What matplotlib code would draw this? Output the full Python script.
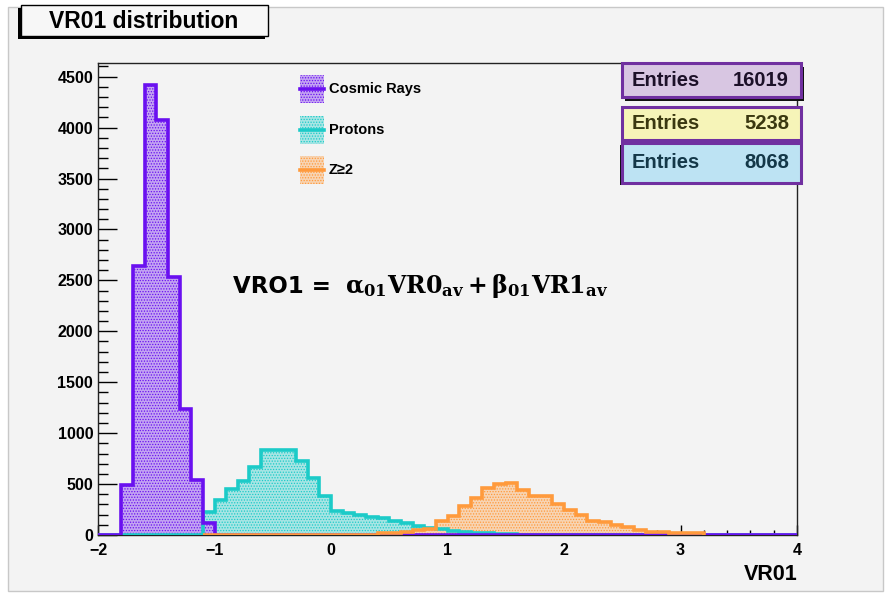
import numpy as np
import matplotlib
matplotlib.use("Agg")
import matplotlib.pyplot as plt
from matplotlib.patches import Rectangle
from matplotlib.lines import Line2D
from matplotlib.ticker import MultipleLocator

# Data (VR01 histograms, bin width 0.1 on [-2, 4])
bin_lo, bin_hi, bin_w = -2.0, 4.0, 0.1

cosmic_start = -1.8
cosmic_counts = [495, 2640, 4420, 4070, 2536, 1235, 542, 118]

proton_start = -1.1
proton_counts = [228, 346, 455, 530, 663, 838, 838, 838, 729, 560, 385,
                 238, 216, 196, 178, 165, 137, 118, 90, 73, 59, 42, 32,
                 22, 18, 14, 6, 4]

z2_range = (-1.1, 3.2)
z2_start = 0.4
z2_counts = [15, 22, 30, 45, 60, 140, 189, 287, 360, 461, 500, 510, 444,
             385, 385, 304, 245, 196, 140, 131, 98, 75, 52, 32, 30, 22,
             20, 18]

labels = ["Cosmic Rays", "Protons", "Z\u22652"]
entries = [16019, 5238, 8068]

# Colours
bg = "#f3f3f3"
c_cosmic = "#6a10f0"
c_proton = "#1ccbc8"
c_z2 = "#ff9a3c"
box_border = "#7030a0"

W, H = 889, 594
fig = plt.figure(figsize=(W / 100, H / 100), dpi=100, facecolor="white")
plt.rcParams["hatch.linewidth"] = 0.6
font = ["Liberation Sans", "DejaVu Sans"]


# pixel -> figure fraction helpers
def fx(x):
    return x / W


def fy(y):
    return 1 - y / H


def fig_rect(x0, y0, x1, y1, **kw):
    r = Rectangle((fx(x0), fy(y1)), fx(x1) - fx(x0), fy(y0) - fy(y1),
                  transform=fig.transFigure, **kw)
    fig.add_artist(r)
    return r


def tint(c, a):
    rgb = np.array(matplotlib.colors.to_rgb(c))
    base = np.array(matplotlib.colors.to_rgb(bg))
    return tuple(base + (rgb - base) * a)


# canvas
fig_rect(8, 7, 883, 591, facecolor=bg, edgecolor="#c8c8c8", lw=1, zorder=0)

ax = fig.add_axes([fx(98), fy(535), fx(797) - fx(98), fy(62.7) - fy(535)])
ax.set_facecolor(bg)

edges = np.round(np.arange(bin_lo, bin_hi + bin_w / 2, bin_w), 3)


def full(start, counts):
    h = np.zeros(len(edges) - 1)
    i0 = int(round((start - bin_lo) / bin_w))
    h[i0:i0 + len(counts)] = counts
    return h


h_cos = full(cosmic_start, cosmic_counts)
h_pro = full(proton_start, proton_counts)
h_z2_all = full(z2_start, z2_counts)
j0 = int(round((z2_range[0] - bin_lo) / bin_w))
j1 = int(round((z2_range[1] - bin_lo) / bin_w))

hists = [
    (h_pro, edges, c_proton),
    (h_cos, edges, c_cosmic),
    (h_z2_all[j0:j1], edges[j0:j1 + 1], c_z2),
]
for k, (h, e, c) in enumerate(hists):
    ax.stairs(h, e, fill=True, facecolor=tint(c, 0.35), edgecolor=c,
              hatch="......", linewidth=0, zorder=2 + k)
    ax.stairs(h, e, color=c, linewidth=2.6, zorder=5 + k)

ax.set_xlim(bin_lo, bin_hi)
ax.set_ylim(0, 4637)
ax.xaxis.set_major_locator(MultipleLocator(1))
ax.xaxis.set_minor_locator(MultipleLocator(0.2))
ax.yaxis.set_major_locator(MultipleLocator(500))
ax.yaxis.set_minor_locator(MultipleLocator(100))
ax.tick_params(axis="y", which="major", direction="in", length=14, width=1)
ax.tick_params(axis="y", which="minor", direction="in", length=7, width=1)
ax.tick_params(axis="x", which="major", direction="in", length=7, width=1,
               pad=6)
ax.tick_params(axis="x", which="minor", direction="in", length=3.5, width=1)
for lab in ax.get_xticklabels() + ax.get_yticklabels():
    lab.set_fontfamily(font)
    lab.set_fontweight("bold")
    lab.set_fontsize(11.5)
for s in ax.spines.values():
    s.set_linewidth(1)
    s.set_color("#222222")

fig.text(fx(798), fy(574), "VR01", ha="right", va="center", fontsize=15.5,
         fontweight="bold", family=font)

# title box
fig_rect(18, 8, 265, 39, facecolor="black", edgecolor="black", lw=0, zorder=9)
fig_rect(21, 5, 268, 36, facecolor="#f7f7f7", edgecolor="black", lw=1, zorder=10)
fig.text(fx(144), fy(21), "VR01 distribution", ha="center", va="center",
         fontsize=16.5, fontweight="bold", family=font, zorder=11)

# legend
leg_y = [89, 130, 170]
for lab, c, yy in zip(labels, [c_cosmic, c_proton, c_z2], leg_y):
    fig_rect(300, yy - 14, 324, yy + 14, facecolor=tint(c, 0.35), edgecolor=c,
             hatch="......", lw=0, zorder=10)
    fig.add_artist(Line2D([fx(300), fx(324)], [fy(yy), fy(yy)], color=c,
                          lw=2.6, transform=fig.transFigure, zorder=11))
    fig.text(fx(329), fy(yy), lab, ha="left", va="center", fontsize=10.5,
             fontweight="bold", family=font, zorder=11)

# stat boxes
boxes = [
    ((622, 63, 801, 97), "#d8c6e2", "#1c1028", (3, 4)),
    ((622, 107, 801, 140), "#f6f4b8", "#3a3810", None),
    ((622, 143, 801, 183), "#bde3f3", "#143848", (-2, 2)),
]
for ((x0, y0, x1, y1), fc, tc, sh), n in zip(boxes, entries):
    if sh is not None:
        fig_rect(x0 + sh[0], y0 + sh[1], x1 + sh[0], y1 + sh[1],
                 facecolor="#111111", lw=0, zorder=12)
    fig_rect(x0, y0, x1, y1, facecolor=fc, edgecolor=box_border, lw=2.2,
             zorder=13)
    yc = (y0 + y1) / 2
    fig.text(fx(x0 + 10), fy(yc), "Entries", ha="left", va="center",
             fontsize=14.5, fontweight="bold", color=tc, family=font, zorder=14)
    fig.text(fx(x1 - 12), fy(yc), str(n), ha="right", va="center",
             fontsize=14.5, fontweight="bold", color=tc, family=font, zorder=14)

# formula
fig.text(fx(233), fy(293), "VRO1 =", ha="left", va="baseline", fontsize=16.5,
         fontweight="bold", family="DejaVu Sans", zorder=11)
fig.text(fx(345), fy(293),
         r"$\mathbf{\alpha_{01}VR0_{av}+\beta_{01}VR1_{av}}$",
         ha="left", va="baseline", fontsize=17, math_fontfamily="dejavuserif",
         zorder=11)

fig.savefig("out.png", dpi=100, facecolor="white")
